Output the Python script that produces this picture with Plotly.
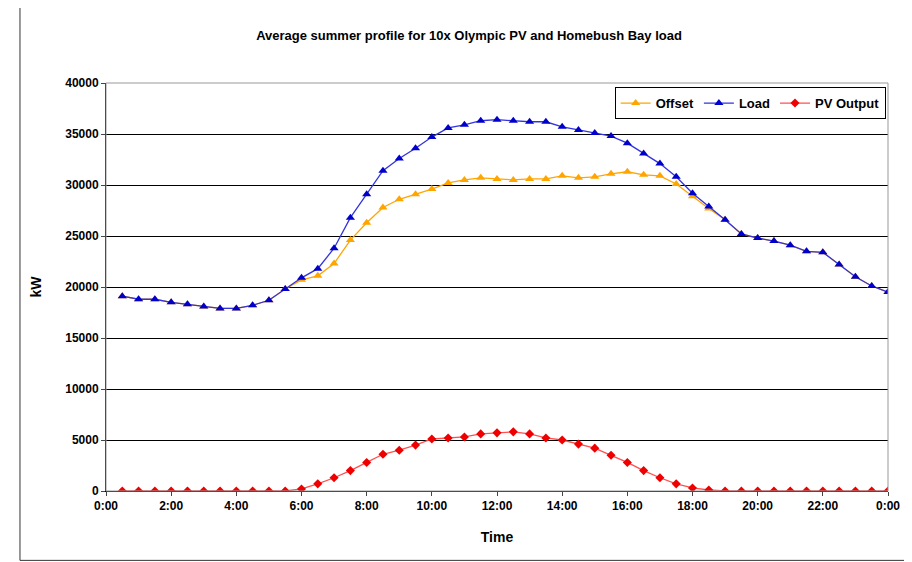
import plotly.graph_objects as go

hours = [h / 2 for h in range(1, 49)]
load = [19100, 18800, 18800, 18500, 18300, 18100, 17900, 17900, 18200, 18700, 19800, 20900,
        21800, 23800, 26800, 29100, 31400, 32600, 33600, 34700, 35600, 35900, 36300, 36400,
        36300, 36200, 36200, 35700, 35400, 35100, 34800, 34100, 33100, 32100, 30800, 29200,
        27900, 26600, 25200, 24800, 24500, 24100, 23500, 23400, 22200, 21000, 20100, 19500]
offset = [19100, 18800, 18800, 18500, 18300, 18100, 17900, 17900, 18200, 18700, 19800, 20700,
          21100, 22300, 24600, 26300, 27800, 28600, 29100, 29600, 30200, 30500, 30700, 30600,
          30500, 30600, 30600, 30900, 30700, 30800, 31100, 31300, 31000, 30900, 30100, 28900,
          27700, 26600, 25200, 24800, 24500, 24100, 23500, 23400, 22200, 21000, 20100, 19500]
pv = [0, 0, 0, 0, 0, 0, 0, 0, 0, 0, 0, 200,
      700, 1300, 2000, 2800, 3600, 4000, 4500, 5100, 5200, 5300, 5600, 5700,
      5800, 5600, 5200, 5000, 4600, 4200, 3500, 2800, 2000, 1300, 700, 300,
      100, 0, 0, 0, 0, 0, 0, 0, 0, 0, 0, 0]
tick_vals = list(range(0, 25, 2))
tick_text = ["0:00", "2:00", "4:00", "6:00", "8:00", "10:00", "12:00", "14:00",
             "16:00", "18:00", "20:00", "22:00", "0:00"]

fig = go.Figure()
fig.add_trace(go.Scatter(x=hours, y=offset, name="<b>Offset</b>", mode="lines+markers",
                         line=dict(color="#FFA500", width=1.3),
                         marker=dict(symbol="triangle-up", size=8, color="#FFA500")))
fig.add_trace(go.Scatter(x=hours, y=load, name="<b>Load</b>", mode="lines+markers",
                         line=dict(color="#3333DD", width=1.3),
                         marker=dict(symbol="triangle-up", size=8, color="#0000CC")))
fig.add_trace(go.Scatter(x=hours, y=pv, name="<b>PV Output</b>", mode="lines+markers",
                         line=dict(color="#FF5050", width=1.3),
                         marker=dict(symbol="diamond", size=7, color="#EE0000")))

fnt = dict(family="Arial, Liberation Sans", size=12, color="black")
fig.update_layout(
    width=904, height=554, paper_bgcolor="white", plot_bgcolor="white",
    margin=dict(l=98, r=22, t=75, b=71),
    title=dict(text="<b>Average summer profile for 10x Olympic PV and Homebush Bay load</b>",
               x=0.51, xanchor="center", y=0.95, yanchor="middle",
               font=dict(family="Arial, Liberation Sans", size=13, color="black")),
    font=fnt,
    showlegend=True,
    legend=dict(orientation="h", x=0.997, xanchor="right", y=0.99, yanchor="top",
                bordercolor="black", borderwidth=1, bgcolor="white",
                font=dict(family="Arial, Liberation Sans", size=13, color="black"),
                itemwidth=30, tracegroupgap=0),
    xaxis=dict(range=[0, 24], tickvals=tick_vals, ticktext=["<b>%s</b>" % t for t in tick_text],
               showgrid=False, showline=True, linecolor="black", ticks="outside", ticklen=4,
               title=dict(text="<b>Time</b>", standoff=19), zeroline=False, mirror=False),
    yaxis=dict(range=[0, 40000], dtick=5000, tickformat="d", showgrid=True, gridcolor="black",
               gridwidth=1, showline=True, linecolor="black", ticks="outside", ticklen=4,
               title=dict(text="<b>kW</b>", standoff=20), zeroline=False,
               tickprefix="<b>", ticksuffix="</b>"),
)
fig.add_shape(type="rect", xref="paper", yref="paper", x0=0, x1=1, y0=0, y1=1,
              line=dict(color="#999999", width=1))
fig.add_shape(type="rect", xref="paper", yref="paper", x0=-0.11, x1=1.03, y0=-0.17, y1=1.2,
              line=dict(color="#333333", width=1))
fig.write_html("out.html")
